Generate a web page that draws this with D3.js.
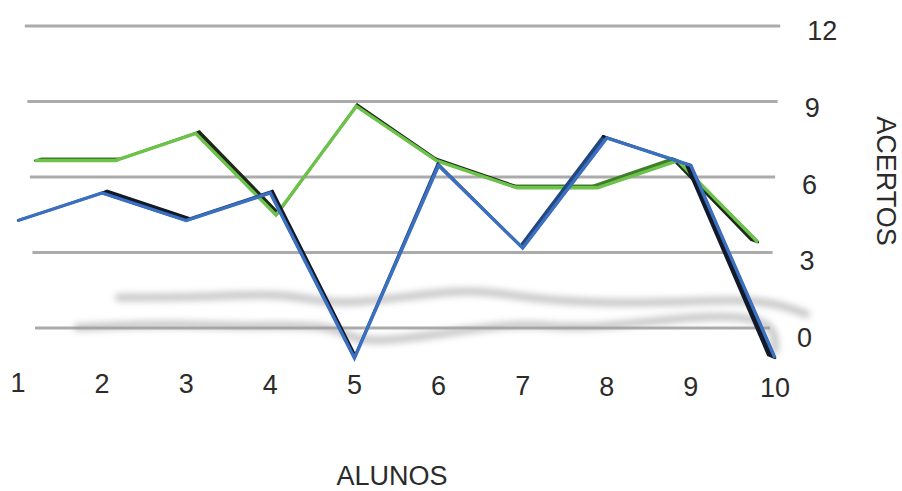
<!DOCTYPE html>
<html>
<head>
<meta charset="utf-8">
<script src="https://cdn.jsdelivr.net/npm/d3@7"></script>
<style>
  html, body { margin: 0; padding: 0; background: #ffffff; }
  svg { display: block; }
  text { font-family: "Liberation Sans", Arial, Helvetica, sans-serif; fill: #2b2b2b; }
</style>
</head>
<body>
<svg id="chart" width="902" height="491"></svg>
<script>
// Students (x axis) and number of correct answers (y axis)
const categories = ["1", "2", "3", "4", "5", "6", "7", "8", "9", "10"];
const greenValues = [7, 7, 8, 5, 9, 7, 6, 6, 7, 4];
const blueValues = [5, 6, 5, 6, 0, 7, 4, 8, 7, 0];
const yTicks = [0, 3, 6, 9, 12];
const xTitle = "ALUNOS";
const yTitle = "ACERTOS";

const svg = d3.select("#chart");
const defs = svg.append("defs");
defs.append("filter").attr("id", "soft")
  .attr("x", "-5%").attr("y", "-50%").attr("width", "110%").attr("height", "200%")
  .append("feGaussianBlur").attr("stdDeviation", 0.7);
defs.append("filter").attr("id", "shadowBlur")
  .attr("x", "-10%").attr("y", "-100%").attr("width", "120%").attr("height", "300%")
  .append("feGaussianBlur").attr("stdDeviation", 3.4);

// Wall scale for the gridlines (back plane)
const yGrid = d3.scaleLinear().domain([0, 12]).range([328, 26]);
const gridLeft = v => 35 - v * 0.85;
const gridRight = v => 770 + v * 0.85;

// Front category scale (depth 0)
const xFront = d3.scalePoint().domain(categories).range([18, 775]);
const cx = 396.5;

// Scales of a series placed at a given depth in the 3D box
function depthScales(depth) {
  const s = 1 - 0.045 * depth;
  const zero = 358 - 7 * depth;
  const unit = 27.5 - 0.3 * depth;
  return {
    x: c => cx + (xFront(c) - cx) * s,
    y: d3.scaleLinear().domain([0, 12]).range([zero, zero - 12 * unit])
  };
}

const series = [
  { name: "green", values: greenValues, color: "#6cc24a", down: "#1c2a17", up: "#3f7f2a", depth: 1,
    shadowBase: 336, shadowRise: 5.5 },
  { name: "blue", values: blueValues, color: "#3b6fc0", down: "#121a2a", up: "#23467f", depth: 0,
    shadowBase: 350, shadowRise: 4.5 }
];

// Gridlines
const grid = svg.append("g").attr("filter", "url(#soft)");
grid.selectAll("line").data(yTicks).join("line")
  .attr("x1", d => gridLeft(d)).attr("x2", d => gridRight(d))
  .attr("y1", d => yGrid(d)).attr("y2", d => yGrid(d))
  .attr("stroke", "#ababab").attr("stroke-width", 3.2);

// Y tick labels on the right
svg.append("g").selectAll("text").data(yTicks).join("text")
  .attr("x", d => gridRight(d) + 27)
  .attr("y", d => yGrid(d) + 14 + (12 - d) / 12 * 5)
  .attr("font-size", 27)
  .text(d => d);

// Floor shadows of the two series
const shadowG = svg.append("g").attr("filter", "url(#shadowBlur)");
series.forEach(sr => {
  const sc = depthScales(sr.depth);
  const pts = sr.values.map((v, i) => [sc.x(categories[i]) + v * 12, sr.shadowBase - v * sr.shadowRise]);
  shadowG.append("path")
    .attr("d", d3.line().curve(d3.curveBasis)(pts))
    .attr("fill", "none").attr("stroke", "#9c9c9c").attr("stroke-opacity", 0.55)
    .attr("stroke-width", 8).attr("stroke-linecap", "round");
});

// Ribbon lines: dark side faces, then the coloured front edge
series.forEach(sr => {
  const front = depthScales(sr.depth);
  const back = depthScales(sr.depth + 0.4);
  const g = svg.append("g");
  const fp = sr.values.map((v, i) => [front.x(categories[i]), front.y(v)]);
  const bp = sr.values.map((v, i) => [back.x(categories[i]), back.y(v)]);
  for (let i = 0; i < fp.length - 1; i++) {
    const desc = sr.values[i + 1] < sr.values[i];
    g.append("path")
      .attr("d", d3.line()([fp[i], fp[i + 1], bp[i + 1], bp[i]]) + "Z")
      .attr("fill", desc ? sr.down : sr.up)
      .attr("stroke", desc ? sr.down : sr.up)
      .attr("stroke-width", 2.4).attr("stroke-linejoin", "round");
  }
  g.append("path")
    .attr("d", d3.line()(fp))
    .attr("fill", "none").attr("stroke", sr.color)
    .attr("stroke-width", 3.4).attr("stroke-linejoin", "miter");
});

// X tick labels
svg.append("g").selectAll("text").data(categories).join("text")
  .attr("x", d => xFront(d))
  .attr("y", (d, i) => 392 + i * 0.55)
  .attr("text-anchor", "middle")
  .attr("font-size", 27)
  .text(d => d);

// Axis titles
svg.append("text")
  .attr("x", 392).attr("y", 485)
  .attr("text-anchor", "middle").attr("font-size", 27)
  .text(xTitle);
svg.append("text")
  .attr("transform", "translate(877,181) rotate(90)")
  .attr("text-anchor", "middle").attr("font-size", 27)
  .text(yTitle);
</script>
</body>
</html>
